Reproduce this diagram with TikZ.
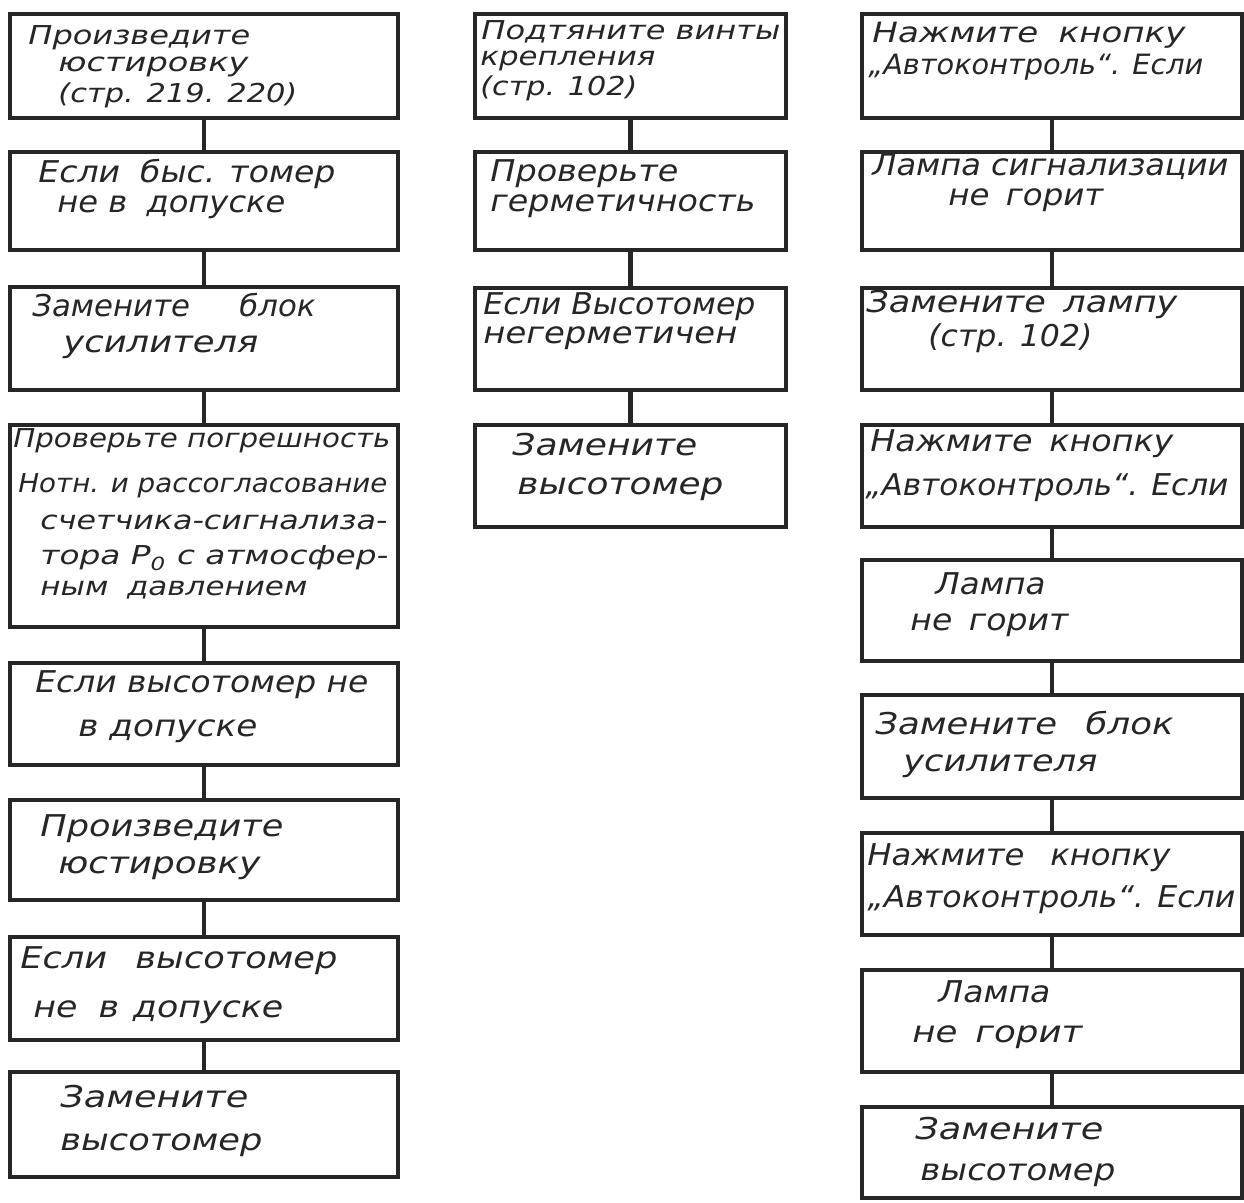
\documentclass[tikz,border=0pt]{standalone}
\usepackage{fontspec}
\setmainfont{DejaVu Sans}
\definecolor{ink}{RGB}{38,38,38}
% box from (x1,y1) to (x2,y2) in reference pixels
\newcommand\bx[5]{\node[boxst,minimum width={(#4-#2)*0.5pt},minimum height={(#5-#3)*0.5pt}] (#1) at ({(#2+#4)/2},{(#3+#5)/2}) {};}
% text line: [style]{name}{x-left}{x-right}{baseline}{text}
\newcommand\tl[6][txt]{\node[#1] (#2) at (#3,#5) {\resizebox{\dimexpr(#4pt-#3pt)/2\relax}{\height}{#6}};}
\begin{document}
\begin{tikzpicture}[x=0.5pt,y=-0.5pt,
  boxst/.style={draw=ink,line width=2.4pt,inner sep=0pt},
  conn/.style={draw=ink,line width=2.4pt},
  txt/.style={text=ink,inner sep=0pt,anchor=base west,font=\fontsize{15}{18}\selectfont\itshape},
  txtm/.style={txt,font=\fontsize{14}{17}\selectfont\itshape},
  txts/.style={txt,font=\fontsize{13}{16}\selectfont\itshape}]
\fill[white] (0,0) rectangle (1244,1203);
\useasboundingbox (0,0) rectangle (1244,1203);

% left column
\bx{L1}{10}{14}{398}{118}
\bx{L2}{10}{152}{398}{250}
\bx{L3}{10}{287}{398}{390}
\bx{L4}{10}{425}{398}{627}
\bx{L5}{10}{663}{398}{765}
\bx{L6}{10}{800}{398}{900}
\bx{L7}{10}{937}{398}{1040}
\bx{L8}{10}{1072}{398}{1177}
\foreach \a/\b in {L1/L2,L2/L3,L3/L4,L4/L5,L5/L6,L6/L7,L7/L8}
  \draw[conn] (\a.south) -- (\b.north);

\tl[txts]{l1a}{28}{250}{45}{Произведите}
\tl[txts]{l1b}{58}{248}{72}{юстировку}
\tl[txts]{l1c}{58}{297}{103}{(стр. 219. 220)}
\tl{l2a}{38}{335}{183}{Если\hspace{0.6em}быс. томер}
\tl{l2b}{57}{285}{213}{не в\hspace{0.6em}допуске}
\tl{l3a}{32}{315}{317}{Замените\hspace{1.6em}блок}
\tl{l3b}{63}{258}{353}{усилителя}
\tl[txts]{l4a}{13}{390}{448}{Проверьте погрешность}
\tl[txts]{l4b}{18}{387}{493}{Нотн. и рассогласование}
\tl[txts]{l4c}{40}{387}{530}{счетчика-сигнализа-}
\tl[txts]{l4d}{40}{388}{565}{тора Р\textsubscript{0} с атмосфер-}
\tl[txts]{l4e}{40}{307}{596}{ным\hspace{0.6em}давлением}
\tl{l5a}{35}{368}{693}{Если высотомер не}
\tl{l5b}{78}{257}{737}{в допуске}
\tl{l6a}{40}{283}{837}{Произведите}
\tl{l6b}{58}{260}{873}{юстировку}
\tl{l7a}{20}{337}{968}{Если\hspace{0.8em}высотомер}
\tl{l7b}{33}{283}{1017}{не\hspace{0.6em}в\hspace{0.4em}допуске}
\tl{l8a}{60}{248}{1107}{Замените}
\tl{l8b}{60}{262}{1150}{высотомер}

% middle column
\bx{M1}{475}{14}{786}{118}
\bx{M2}{475}{152}{786}{250}
\bx{M3}{475}{288}{786}{390}
\bx{M4}{475}{425}{786}{527}
\foreach \a/\b in {M1/M2,M2/M3,M3/M4}
  \draw[conn] (\a.south) -- (\b.north);

\tl[txts]{m1a}{481}{780}{40}{Подтяните винты}
\tl[txts]{m1b}{480}{655}{66}{крепления}
\tl[txts]{m1c}{480}{637}{96}{(стр. 102)}
\tl{m2a}{490}{678}{182}{Проверьте}
\tl{m2b}{490}{755}{212}{герметичность}
\tl{m3a}{483}{755}{315}{Если Высотомер}
\tl{m3b}{483}{737}{344}{негерметичен}
\tl{m4a}{512}{697}{456}{Замените}
\tl{m4b}{517}{723}{495}{высотомер}

% right column
\bx{R1}{862}{14}{1242}{118}
\bx{R2}{862}{152}{1242}{250}
\bx{R3}{862}{288}{1242}{390}
\bx{R4}{862}{425}{1242}{527}
\bx{R5}{862}{560}{1242}{661}
\bx{R6}{862}{695}{1242}{798}
\bx{R7}{862}{833}{1242}{935}
\bx{R8}{862}{970}{1242}{1072}
\bx{R9}{862}{1107}{1242}{1198}
\foreach \a/\b in {R1/R2,R2/R3,R3/R4,R4/R5,R5/R6,R6/R7,R7/R8,R8/R9}
  \draw[conn] (\a.south) -- (\b.north);

\tl[txtm]{r1a}{872}{1185}{43}{Нажмите\hspace{0.6em}кнопку}
\tl[txtm]{r1b}{868}{1203}{75}{„Автоконтроль“. Если}
\tl{r2a}{872}{1228}{176}{Лампа сигнализации}
\tl{r2b}{948}{1103}{206}{не\hspace{0.5em}горит}
\tl{r3a}{866}{1177}{313}{Замените\hspace{0.5em}лампу}
\tl{r3b}{928}{1092}{347}{(стр. 102)}
\tl{r4a}{870}{1173}{452}{Нажмите\hspace{0.5em}кнопку}
\tl{r4b}{865}{1228}{496}{„Автоконтроль“. Если}
\tl{r5a}{935}{1045}{595}{Лампа}
\tl{r5b}{910}{1068}{631}{не\hspace{0.5em}горит}
\tl{r6a}{875}{1173}{735}{Замените\hspace{0.8em}блок}
\tl{r6b}{903}{1097}{771}{усилителя}
\tl{r7a}{867}{1170}{865}{Нажмите\hspace{0.8em}кнопку}
\tl{r7b}{867}{1235}{907}{„Автоконтроль“. Если}
\tl{r8a}{938}{1050}{1002}{Лампа}
\tl{r8b}{912}{1082}{1042}{не\hspace{0.5em}горит}
\tl{r9a}{915}{1103}{1139}{Замените}
\tl{r9b}{920}{1115}{1180}{высотомер}
\end{tikzpicture}
\end{document}
